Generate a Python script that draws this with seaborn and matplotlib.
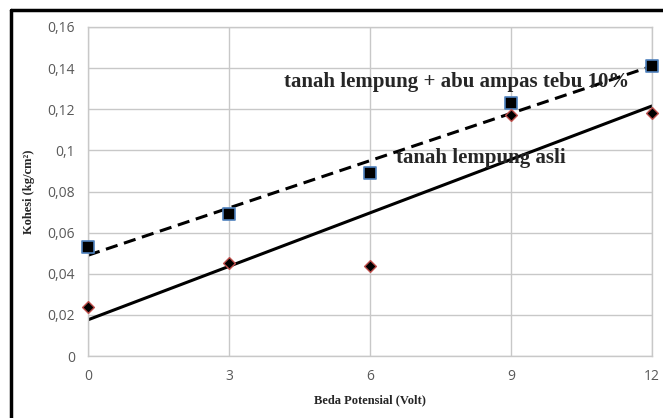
import matplotlib
matplotlib.use("Agg")
import matplotlib.pyplot as plt
import seaborn as sns
import pandas as pd

# data
volt = [0, 3, 6, 9, 12]
kohesi_abu = [0.053, 0.069, 0.089, 0.123, 0.141]
kohesi_asli = [0.024, 0.045, 0.044, 0.117, 0.118]

y_ticks = [0, 0.02, 0.04, 0.06, 0.08, 0.10, 0.12, 0.14, 0.16]
y_labels = ["0", "0,02", "0,04", "0,06", "0,08", "0,1", "0,12", "0,14", "0,16"]
x_ticks = [0, 3, 6, 9, 12]

df = pd.DataFrame({"volt": volt, "abu": kohesi_abu, "asli": kohesi_asli})

sns.set_style("white")
plt.rcParams["font.family"] = ["Open Sans", "DejaVu Sans"]

fig = plt.figure(figsize=(6.63, 4.18), dpi=100)
ax = fig.add_axes([88 / 663, 1 - 356 / 418, (652 - 88) / 663, (356 - 27) / 418])

# trend lines (linear fit)
sns.regplot(data=df, x="volt", y="abu", ci=None, scatter=False, ax=ax,
            line_kws=dict(color="black", lw=2.2, ls=(0, (4, 2.2))))
sns.regplot(data=df, x="volt", y="asli", ci=None, scatter=False, ax=ax,
            line_kws=dict(color="black", lw=2.2))

# markers
sns.scatterplot(data=df, x="volt", y="abu", marker="s", s=80, color="black",
                edgecolor="#4f81bd", linewidth=1.2, ax=ax, zorder=5)
sns.scatterplot(data=df, x="volt", y="asli", marker="D", s=36, color="black",
                edgecolor="#c0504d", linewidth=1.0, ax=ax, zorder=5)

ax.set_xlim(0, 12)
ax.set_ylim(0, 0.16)
ax.set_xticks(x_ticks)
ax.set_yticks(y_ticks)
ax.set_yticklabels(y_labels)
ax.tick_params(axis="both", length=0, labelsize=10, colors="#595959")
ax.tick_params(axis="x", pad=9)
ax.tick_params(axis="y", pad=9.5)
ax.grid(True, color="#c8c8c8", lw=1)
for s in ax.spines.values():
    s.set_color("#c8c8c8")
    s.set_linewidth(1)
for coll in ax.collections:
    coll.set_clip_on(False)

ax.set_xlabel("Beda Potensial (Volt)", fontfamily="Liberation Serif",
              fontweight="bold", fontsize=9, labelpad=8)
ax.set_ylabel("Kohesi (kg/cm\u00b2)", fontfamily="Liberation Serif",
              fontweight="bold", fontsize=9, labelpad=9)

ax.text(4.18, 0.1333, "tanah lempung + abu ampas tebu 10%",
        fontfamily="Liberation Serif", fontweight="bold", fontsize=15,
        va="center", ha="left", zorder=6)
ax.text(6.56, 0.0963, "tanah lempung asli",
        fontfamily="Liberation Serif", fontweight="bold", fontsize=15,
        va="center", ha="left", zorder=6)

# outer frame (top and left visible)
fig.add_artist(plt.Line2D([11 / 663, 11 / 663], [0, 1 - 10 / 418],
                          transform=fig.transFigure, color="black", lw=2.5))
fig.add_artist(plt.Line2D([11 / 663, 1], [1 - 10 / 418, 1 - 10 / 418],
                          transform=fig.transFigure, color="black", lw=2.5))

fig.savefig("out.png", dpi=100)
